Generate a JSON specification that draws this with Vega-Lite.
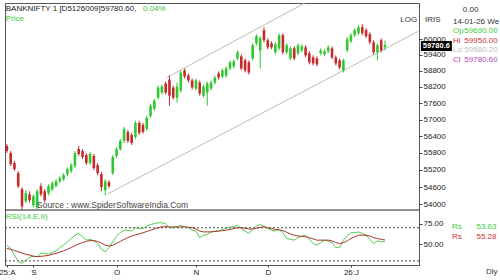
{
 "$schema": "https://vega.github.io/schema/vega-lite/v6.json",
 "autosize": {"type": "none"},
 "width": 414,
 "height": 262,
 "padding": {"left": 5, "top": 3, "right": 81, "bottom": 15},
 "background": "white",
 "config": {"view": {"stroke": "#555", "strokeWidth": 1}, "font": "Liberation Sans", "text": {"font": "Liberation Sans", "fontSize": 8, "baseline": "middle", "align": "left"}},
 "data": {"values": [
  {"i":0,"o":56050,"h":56122,"l":55799,"c":55870,"rsi":49,"sig":45},
  {"i":1,"o":55799,"h":55870,"l":55336,"c":55407,"rsi":45,"sig":44},
  {"i":2,"o":55442,"h":55514,"l":55158,"c":55229,"rsi":37,"sig":42.5},
  {"i":3,"o":55087,"h":55158,"l":54560,"c":54630,"rsi":29,"sig":41},
  {"i":4,"o":54525,"h":54595,"l":53828,"c":53932,"rsi":27,"sig":39.5},
  {"i":5,"o":54106,"h":54490,"l":54036,"c":54385,"rsi":31,"sig":38},
  {"i":6,"o":54350,"h":54455,"l":54070,"c":54140,"rsi":34,"sig":37},
  {"i":7,"o":53967,"h":54350,"l":53897,"c":54280,"rsi":36,"sig":35.5},
  {"i":8,"o":53897,"h":54525,"l":53830,"c":54455,"rsi":35,"sig":35},
  {"i":9,"o":54630,"h":54735,"l":54280,"c":54350,"rsi":39.5,"sig":35.5},
  {"i":10,"o":54455,"h":54525,"l":54070,"c":54140,"rsi":39,"sig":36},
  {"i":11,"o":54385,"h":54700,"l":54315,"c":54630,"rsi":38,"sig":36.5},
  {"i":12,"o":54525,"h":54805,"l":54455,"c":54735,"rsi":40,"sig":38},
  {"i":13,"o":54630,"h":54876,"l":54595,"c":54805,"rsi":42,"sig":39},
  {"i":14,"o":54805,"h":54981,"l":54735,"c":54911,"rsi":46,"sig":40.5},
  {"i":15,"o":54876,"h":55087,"l":54805,"c":55016,"rsi":49,"sig":42},
  {"i":16,"o":55052,"h":55300,"l":54981,"c":55229,"rsi":53,"sig":44},
  {"i":17,"o":55158,"h":55442,"l":55087,"c":55371,"rsi":57,"sig":46},
  {"i":18,"o":55336,"h":55870,"l":55265,"c":55799,"rsi":61,"sig":48.5},
  {"i":19,"o":55942,"h":56050,"l":55692,"c":55763,"rsi":63,"sig":50.5},
  {"i":20,"o":55870,"h":55942,"l":55585,"c":55656,"rsi":59,"sig":52},
  {"i":21,"o":55728,"h":55799,"l":55371,"c":55442,"rsi":55,"sig":53.5},
  {"i":22,"o":55442,"h":55835,"l":55371,"c":55763,"rsi":56,"sig":54.5},
  {"i":23,"o":55692,"h":55763,"l":55194,"c":55265,"rsi":54,"sig":54.5},
  {"i":24,"o":55371,"h":55442,"l":55016,"c":55087,"rsi":51,"sig":53.5},
  {"i":25,"o":55052,"h":55123,"l":54455,"c":54595,"rsi":44,"sig":51.5},
  {"i":26,"o":54490,"h":54876,"l":54315,"c":54805,"rsi":41,"sig":49},
  {"i":27,"o":54770,"h":54840,"l":54560,"c":54630,"rsi":46,"sig":48},
  {"i":28,"o":55087,"h":55728,"l":55016,"c":55656,"rsi":53,"sig":49},
  {"i":29,"o":55692,"h":56014,"l":55620,"c":55942,"rsi":60,"sig":51},
  {"i":30,"o":55942,"h":56303,"l":55870,"c":56231,"rsi":64,"sig":53.5},
  {"i":31,"o":56231,"h":56738,"l":56158,"c":56665,"rsi":67,"sig":56},
  {"i":32,"o":56556,"h":56629,"l":56158,"c":56231,"rsi":67,"sig":58},
  {"i":33,"o":56447,"h":56520,"l":56086,"c":56158,"rsi":66,"sig":60},
  {"i":34,"o":56375,"h":56957,"l":56303,"c":56884,"rsi":70,"sig":61.5},
  {"i":35,"o":56884,"h":56957,"l":56447,"c":56520,"rsi":69,"sig":62.5},
  {"i":36,"o":56811,"h":56884,"l":56484,"c":56556,"rsi":69,"sig":64},
  {"i":37,"o":56665,"h":57141,"l":56593,"c":57068,"rsi":72,"sig":65.5},
  {"i":38,"o":57141,"h":57583,"l":57068,"c":57509,"rsi":74,"sig":67},
  {"i":39,"o":57399,"h":57768,"l":57325,"c":57694,"rsi":75,"sig":68.5},
  {"i":40,"o":57805,"h":58252,"l":57731,"c":58177,"rsi":76,"sig":70},
  {"i":41,"o":57991,"h":58290,"l":57917,"c":58215,"rsi":76,"sig":71},
  {"i":42,"o":58327,"h":58402,"l":57917,"c":57991,"rsi":75,"sig":71.5},
  {"i":43,"o":58477,"h":58628,"l":57509,"c":57879,"rsi":70,"sig":71},
  {"i":44,"o":58177,"h":58252,"l":57731,"c":57805,"rsi":70,"sig":71},
  {"i":45,"o":57805,"h":58365,"l":57620,"c":58215,"rsi":71,"sig":71},
  {"i":46,"o":58066,"h":58817,"l":57991,"c":58741,"rsi":73,"sig":71},
  {"i":47,"o":58817,"h":58892,"l":58515,"c":58590,"rsi":71,"sig":71},
  {"i":48,"o":58628,"h":58703,"l":58365,"c":58440,"rsi":70,"sig":70.5},
  {"i":49,"o":58440,"h":58515,"l":58103,"c":58177,"rsi":67,"sig":70},
  {"i":50,"o":58140,"h":58515,"l":58066,"c":58440,"rsi":66,"sig":68.5},
  {"i":51,"o":58365,"h":58440,"l":57879,"c":57954,"rsi":58,"sig":66},
  {"i":52,"o":57879,"h":58290,"l":57805,"c":58215,"rsi":61,"sig":65},
  {"i":53,"o":57991,"h":58402,"l":57509,"c":58327,"rsi":62,"sig":65},
  {"i":54,"o":58140,"h":58440,"l":58066,"c":58365,"rsi":65,"sig":65},
  {"i":55,"o":58365,"h":58628,"l":58290,"c":58552,"rsi":66,"sig":65.5},
  {"i":56,"o":58703,"h":58779,"l":58477,"c":58552,"rsi":66,"sig":66},
  {"i":57,"o":58590,"h":58892,"l":58515,"c":58817,"rsi":68,"sig":66.5},
  {"i":58,"o":58628,"h":58968,"l":58552,"c":58892,"rsi":69,"sig":67},
  {"i":59,"o":58892,"h":59196,"l":58817,"c":59120,"rsi":71,"sig":68},
  {"i":60,"o":58968,"h":59234,"l":58892,"c":59158,"rsi":71,"sig":69},
  {"i":61,"o":59272,"h":59577,"l":59196,"c":59501,"rsi":73,"sig":70},
  {"i":62,"o":59348,"h":59425,"l":58817,"c":58892,"rsi":69,"sig":70},
  {"i":63,"o":59196,"h":59272,"l":58741,"c":58817,"rsi":66,"sig":69.5},
  {"i":64,"o":59120,"h":59196,"l":58665,"c":58741,"rsi":63,"sig":68.5},
  {"i":65,"o":59272,"h":59846,"l":59196,"c":59769,"rsi":68,"sig":68.5},
  {"i":66,"o":59846,"h":60194,"l":59769,"c":60116,"rsi":72,"sig":69.5},
  {"i":67,"o":59577,"h":60116,"l":58892,"c":60039,"rsi":74,"sig":70.5},
  {"i":68,"o":60348,"h":60465,"l":59884,"c":59961,"rsi":72,"sig":71},
  {"i":69,"o":59961,"h":60039,"l":59616,"c":59692,"rsi":69,"sig":70},
  {"i":70,"o":59846,"h":59923,"l":59616,"c":59692,"rsi":67,"sig":69},
  {"i":71,"o":59501,"h":59884,"l":59425,"c":59808,"rsi":66,"sig":68},
  {"i":72,"o":59654,"h":60232,"l":59577,"c":60155,"rsi":68,"sig":67.5},
  {"i":73,"o":60155,"h":60232,"l":59425,"c":59501,"rsi":64,"sig":66.5},
  {"i":74,"o":59501,"h":59846,"l":59425,"c":59769,"rsi":57,"sig":64.5},
  {"i":75,"o":59272,"h":59731,"l":59196,"c":59654,"rsi":56,"sig":62.5},
  {"i":76,"o":59654,"h":59731,"l":59196,"c":59272,"rsi":55,"sig":61},
  {"i":77,"o":59463,"h":59846,"l":59387,"c":59769,"rsi":58,"sig":60},
  {"i":78,"o":59577,"h":59808,"l":59501,"c":59731,"rsi":60,"sig":59.5},
  {"i":79,"o":59692,"h":59769,"l":59310,"c":59387,"rsi":61,"sig":59},
  {"i":80,"o":59463,"h":59539,"l":59044,"c":59120,"rsi":56,"sig":58},
  {"i":81,"o":59310,"h":59387,"l":59006,"c":59082,"rsi":51,"sig":56.5},
  {"i":82,"o":59272,"h":59348,"l":58968,"c":59044,"rsi":49,"sig":55},
  {"i":83,"o":59463,"h":59654,"l":59387,"c":59577,"rsi":52,"sig":55},
  {"i":84,"o":59425,"h":59616,"l":59348,"c":59539,"rsi":55,"sig":55},
  {"i":85,"o":59539,"h":59769,"l":59463,"c":59692,"rsi":54,"sig":55},
  {"i":86,"o":59654,"h":59731,"l":59234,"c":59310,"rsi":52,"sig":54},
  {"i":87,"o":59310,"h":59387,"l":59006,"c":59082,"rsi":46,"sig":52},
  {"i":88,"o":59196,"h":59272,"l":58855,"c":58930,"rsi":46,"sig":51},
  {"i":89,"o":58817,"h":59272,"l":58741,"c":59196,"rsi":55,"sig":52},
  {"i":90,"o":59577,"h":60077,"l":59501,"c":60000,"rsi":60,"sig":54},
  {"i":91,"o":59923,"h":60232,"l":59846,"c":60155,"rsi":64,"sig":57},
  {"i":92,"o":60155,"h":60426,"l":60077,"c":60348,"rsi":64,"sig":59},
  {"i":93,"o":60232,"h":60542,"l":60155,"c":60465,"rsi":65,"sig":61},
  {"i":94,"o":60465,"h":60581,"l":60155,"c":60232,"rsi":63,"sig":61},
  {"i":95,"o":60348,"h":60426,"l":60039,"c":60116,"rsi":61,"sig":61},
  {"i":96,"o":60194,"h":60271,"l":59808,"c":59884,"rsi":56,"sig":60},
  {"i":97,"o":59884,"h":59961,"l":59425,"c":59501,"rsi":51,"sig":58},
  {"i":98,"o":59501,"h":59846,"l":59196,"c":59769,"rsi":54,"sig":57},
  {"i":99,"o":59961,"h":60039,"l":59501,"c":59577,"rsi":53,"sig":56},
  {"i":100,"o":59690,"h":59950,"l":59580,"c":59780,"rsi":53.63,"sig":55.28}
 ]},
 "layer": [
  {
   "layer": [
    {
     "data": {"values": [
      {"line": "upper", "i": 42.3, "p": 58552},
      {"line": "upper", "i": 78.8, "p": 61403},
      {"line": "lower", "i": 26.5, "p": 54350},
      {"line": "lower", "i": 108.9, "p": 60309}
     ]},
     "mark": {"type": "line", "color": "#bcbcbc", "strokeWidth": 1, "clip": true},
     "encoding": {
      "x": {"field": "i", "type": "quantitative", "title": null,
        "scale": {"domain": [-0.5, 109], "nice": false, "zero": false},
        "axis": {"values": [0, 7, 29, 50, 69, 91], "labelExpr": "datum.value == 0 ? '25:A' : datum.value == 7 ? 'S' : datum.value == 29 ? 'O' : datum.value == 50 ? 'N' : datum.value == 69 ? 'D' : '26:J'", "grid": false, "domain": false, "tickSize": 2, "tickColor": "#444", "labelFont": "Liberation Sans", "labelFontSize": 8, "labelColor": "#222", "labelPadding": 1, "labelFlush": false, "labelOverlap": false, "title": null}},
      "y": {"field": "p", "type": "quantitative", "title": null,
        "scale": {"type": "log", "domain": [53807, 61403], "range": [207, 0], "nice": false},
        "axis": {"orient": "right", "values": [54000, 54600, 55200, 55800, 56400, 57000, 57600, 58200, 58800, 59400, 60000], "format": "d", "grid": false, "domain": false, "tickSize": 3, "tickColor": "#444", "labelFont": "Liberation Sans", "labelFontSize": 8, "labelColor": "#222", "labelPadding": 1, "labelFlush": false, "labelOverlap": false, "title": null}},
      "detail": {"field": "line", "type": "nominal"}
     }
    },
    {
     "mark": {"type": "rule", "strokeWidth": 1},
     "encoding": {
      "x": {"field": "i", "type": "quantitative", "title": null},
      "y": {"field": "l", "type": "quantitative", "title": null},
      "y2": {"field": "h"},
      "color": {"condition": {"test": "datum.c >= datum.o", "value": "#30c830"}, "value": "#c62a2a"}
     }
    },
    {
     "mark": {"type": "rule", "strokeWidth": 2.6},
     "encoding": {
      "x": {"field": "i", "type": "quantitative", "title": null},
      "y": {"field": "o", "type": "quantitative", "title": null},
      "y2": {"field": "c"},
      "color": {"condition": {"test": "datum.c >= datum.o", "value": "#30c830"}, "value": "#c62a2a"}
     }
    },
    {
     "data": {"values": [{}]},
     "mark": {"type": "rule", "color": "#222", "strokeWidth": 1},
     "encoding": {"y": {"datum": 53807}}
    },
    {"data": {"values": [{}]}, "mark": {"type": "text", "text": "BANKNIFTY 1 [D5126009]59780.60,", "color": "#222"}, "encoding": {"x": {"datum": -0.3}, "y": {"datum": 61168}}},
    {"data": {"values": [{}]}, "mark": {"type": "text", "text": "0.04%", "color": "#3bb83b"}, "encoding": {"x": {"datum": 36.0}, "y": {"datum": 61168}}},
    {"data": {"values": [{}]}, "mark": {"type": "text", "text": "Price", "color": "#3bcc3b"}, "encoding": {"x": {"datum": -0.3}, "y": {"datum": 60764}}},
    {"data": {"values": [{}]}, "mark": {"type": "text", "text": "LOG", "color": "#333", "align": "right"}, "encoding": {"x": {"datum": 108.5}, "y": {"datum": 60737}}},
    {"data": {"values": [{}]}, "mark": {"type": "text", "text": "IRIS", "color": "#333"}, "encoding": {"x": {"datum": 110.6}, "y": {"datum": 60737}}},
    {"data": {"values": [{}]}, "mark": {"type": "text", "text": "0.00", "color": "#333"}, "encoding": {"x": {"datum": 120.6}, "y": {"datum": 61129}}},
    {"data": {"values": [{}]}, "mark": {"type": "text", "text": "14-01-26 We", "color": "#333"}, "encoding": {"x": {"datum": 118.0}, "y": {"datum": 60659}}},
    {"data": {"values": [{}]}, "mark": {"type": "text", "text": "Op", "color": "#3bcc3b"}, "encoding": {"x": {"datum": 118.0}, "y": {"datum": 60328}}},
    {"data": {"values": [{}]}, "mark": {"type": "text", "text": "59690.00", "color": "#3bcc3b"}, "encoding": {"x": {"datum": 121.0}, "y": {"datum": 60328}}},
    {"data": {"values": [{}]}, "mark": {"type": "text", "text": "Hi", "color": "#c83232"}, "encoding": {"x": {"datum": 118.0}, "y": {"datum": 59942}}},
    {"data": {"values": [{}]}, "mark": {"type": "text", "text": "59950.00", "color": "#c83232"}, "encoding": {"x": {"datum": 121.0}, "y": {"datum": 59942}}},
    {"data": {"values": [{}]}, "mark": {"type": "text", "text": "Lo", "color": "#bdbdbd"}, "encoding": {"x": {"datum": 118.0}, "y": {"datum": 59578}}},
    {"data": {"values": [{}]}, "mark": {"type": "text", "text": "59580.20", "color": "#bdbdbd"}, "encoding": {"x": {"datum": 121.0}, "y": {"datum": 59578}}},
    {"data": {"values": [{}]}, "mark": {"type": "text", "text": "Cl", "color": "#b448b4"}, "encoding": {"x": {"datum": 118.0}, "y": {"datum": 59196}}},
    {"data": {"values": [{}]}, "mark": {"type": "text", "text": "59780.60", "color": "#b448b4"}, "encoding": {"x": {"datum": 121.0}, "y": {"datum": 59196}}},
    {"data": {"values": [{}]}, "mark": {"type": "rect", "color": "#000"}, "encoding": {"x": {"datum": 109.5}, "x2": {"datum": 117.7}, "y": {"datum": 59931}, "y2": {"datum": 59550}}},
    {"data": {"values": [{}]}, "mark": {"type": "text", "text": "59780.6", "color": "#fff", "fontWeight": "bold", "fontSize": 7.5}, "encoding": {"x": {"datum": 110.0}, "y": {"datum": 59730}}},
    {"data": {"values": [{}]}, "mark": {"type": "text", "text": "Source : www.SpiderSoftwareIndia.Com", "color": "#444", "fontSize": 8.5}, "encoding": {"x": {"datum": 7.96}, "y": {"datum": 53964}}}
   ]
  },
  {
   "layer": [
    {
     "data": {"values": [{"v": 70}, {"v": 30}]},
     "mark": {"type": "rule", "color": "#444", "strokeDash": [2, 2], "strokeWidth": 1},
     "encoding": {
      "y": {"field": "v", "type": "quantitative", "title": null,
        "scale": {"domain": [25, 90], "range": [262, 208.2], "nice": false, "zero": false},
        "axis": {"orient": "right", "values": [50, 75], "format": ".2f", "grid": false, "domain": false, "tickSize": 3, "tickColor": "#444", "labelFont": "Liberation Sans", "labelFontSize": 8, "labelColor": "#222", "labelPadding": 1, "labelFlush": false, "labelOverlap": false, "title": null}}
     }
    },
    {
     "mark": {"type": "line", "color": "#52c852", "strokeWidth": 1},
     "encoding": {"x": {"field": "i", "type": "quantitative", "title": null}, "y": {"field": "rsi", "type": "quantitative", "title": null}}
    },
    {
     "mark": {"type": "line", "color": "#a5382c", "strokeWidth": 1},
     "encoding": {"x": {"field": "i", "type": "quantitative", "title": null}, "y": {"field": "sig", "type": "quantitative", "title": null}}
    },
    {"data": {"values": [{}]}, "mark": {"type": "text", "text": "RSI(14,E,9)", "color": "#3bcc3b"}, "encoding": {"x": {"datum": -0.3}, "y": {"datum": 83}}},
    {"data": {"values": [{}]}, "mark": {"type": "text", "text": "Rs", "color": "#3bcc3b"}, "encoding": {"x": {"datum": 117.7}, "y": {"datum": 71.3}}},
    {"data": {"values": [{}]}, "mark": {"type": "text", "text": "53.63", "color": "#3bcc3b"}, "encoding": {"x": {"datum": 124.2}, "y": {"datum": 71.3}}},
    {"data": {"values": [{}]}, "mark": {"type": "text", "text": "Rs", "color": "#c83232"}, "encoding": {"x": {"datum": 117.7}, "y": {"datum": 59.2}}},
    {"data": {"values": [{}]}, "mark": {"type": "text", "text": "55.28", "color": "#c83232"}, "encoding": {"x": {"datum": 124.2}, "y": {"datum": 59.2}}},
    {"data": {"values": [{}]}, "mark": {"type": "text", "text": "Dly", "color": "#333"}, "encoding": {"x": {"datum": 126.7}, "y": {"datum": 16.9}}}
   ]
  }
 ],
 "resolve": {"scale": {"y": "independent"}}
}
